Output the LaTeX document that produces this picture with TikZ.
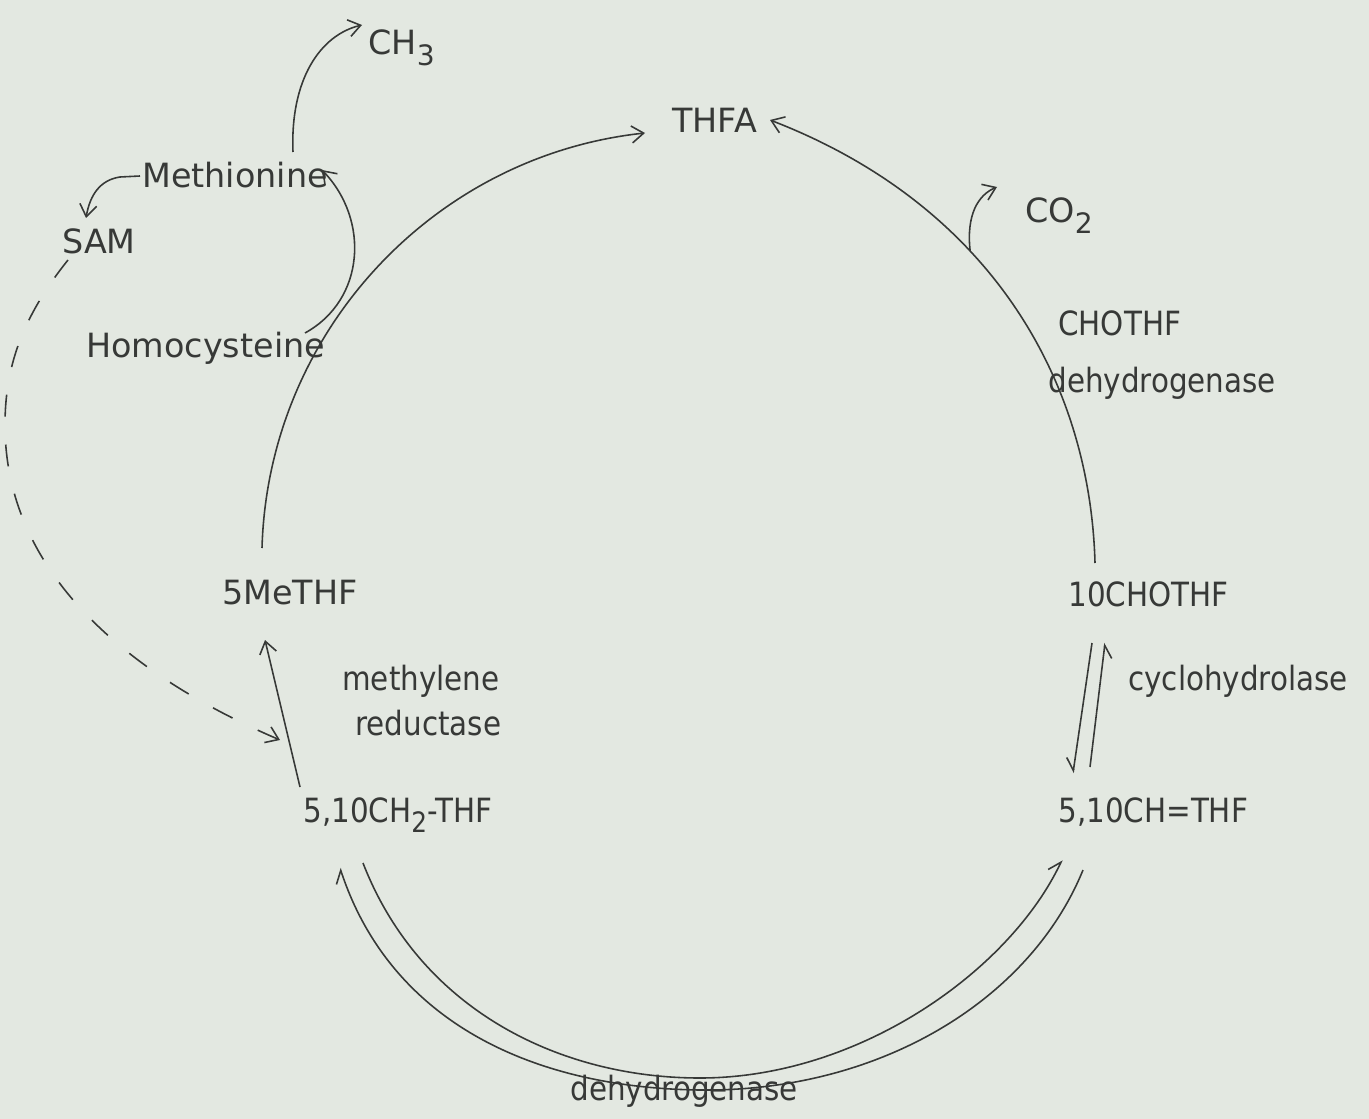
\documentclass[tikz,border=0pt]{standalone}
\usepackage{fontspec}
\setmainfont{DejaVu Sans}
\newfontfamily\narrowfont{DejaVu Sans}[FakeStretch=0.88]
\usetikzlibrary{arrows.meta}
\definecolor{paper}{RGB}{227,232,225}
\definecolor{ink}{RGB}{55,57,55}
\newcommand{\lowsub}[1]{\raisebox{-0.55ex}{\fontsize{16}{16}\selectfont #1}}

\begin{document}
\begin{tikzpicture}[
    x=0.2mm, y=-0.2mm,
    >={Straight Barb[length=2.4mm,width=3.4mm]},
    lbl/.style={anchor=base west, inner sep=0pt, text=ink, font=\fontsize{19}{22}\selectfont},
    nlbl/.style={lbl, font=\narrowfont\fontsize{19}{22}\selectfont},
    enz/.style={nlbl},
    rxn/.style={draw=ink, line width=0.9pt, ->},
    harp/.style={draw=ink, line width=0.9pt, -{Straight Barb[harpoon,length=2.4mm,width=3.4mm]}},
    harpsw/.style={draw=ink, line width=0.9pt, -{Straight Barb[harpoon,swap,length=2.4mm,width=3.4mm]}},
    feedback/.style={rxn, dash pattern=on 4.4mm off 5.6mm},
  ]
  \fill[paper] (0,0) rectangle (1369,1119);
  \useasboundingbox (0,0) rectangle (1369,1119);

  % folate pool
  \node[lbl]  (thfa)    at (672,133)  {THFA};
  \node[lbl]  (methf)   at (222,604)  {5MeTHF};
  \node[nlbl] (cho10)   at (1068,606) {10CHOTHF};
  \node[nlbl] (ch2thf)  at (303,822)  {5,10CH\lowsub{2}-THF};
  \node[nlbl] (chthf)   at (1058,822) {5,10CH=THF};
  % methyl side
  \node[lbl] (ch3)     at (368,55)   {CH\lowsub{3}};
  \node[lbl] (methion) at (142,188)  {Methionine};
  \node[lbl] (sam)     at (62,254)   {SAM};
  \node[lbl] (homocys) at (86,358)   {Homocysteine};
  \node[lbl] (co2)     at (1025,223) {CO\lowsub{2}};
  % enzymes
  \node[enz] (chodh)   at (1058,336) {CHOTHF};
  \node[enz] (chodh2)  at ([shift={(-10,56)}]chodh.base west) {dehydrogenase};
  \node[enz] (mred)    at (342,690)  {methylene};
  \node[enz] (mred2)   at ([shift={(13,45)}]mred.base west) {reductase};
  \node[enz] (cyclo)   at (1128,690) {cyclohydrolase};
  \node[enz] (dh)      at (570,1100) {dehydrogenase};

  % main cycle
  \draw[rxn] ([shift={(40,-56)}]methf.base west) .. controls (268,334) and (432,156) .. ([shift={(-27,0)}]thfa.base west);
  \draw[rxn] ([shift={(27,-43)}]cho10.base west) .. controls (1090,380) and (990,205) .. ([shift={(98,-13)}]thfa.base west)
    coordinate[pos=0.62] (co2off);
  \draw[rxn] (co2off) .. controls (966,215) and (978,195) .. ([shift={(-28,-36)}]co2.base west);
  \draw[rxn] ([shift={(-3,-35)}]ch2thf.base west) -- ([shift={(43,36)}]methf.base west);
  \draw[harpsw] ([shift={(24,37)}]cho10.base west) -- ([shift={(15,-49)}]chthf.base west);
  \draw[harpsw] ([shift={(32,-55)}]chthf.base west) -- ([shift={(37,37)}]cho10.base west);
  \draw[harp] ([shift={(60,41)}]ch2thf.base west) .. controls (420,1010) and (560,1078) .. (700,1078)
    .. controls (860,1078) and (1010,970) .. ([shift={(4,38)}]chthf.base west);
  \draw[harp] ([shift={(25,48)}]chthf.base west) .. controls (1030,1000) and (880,1092) .. (700,1090)
    .. controls (530,1088) and (390,1020) .. ([shift={(37,46)}]ch2thf.base west);

  % methionine loop
  \draw[rxn] ([shift={(219,-25)}]homocys.base west) .. controls (365,300) and (370,220) .. ([shift={(180,-18)}]methion.base west);
  \draw[rxn] ([shift={(151,-36)}]methion.base west) .. controls (290,80) and (320,35) .. ([shift={(-6,-30)}]ch3.base west);
  \draw[rxn] ([shift={(-2,-12)}]methion.base west) -- ++(-20,1) .. controls (100,180) and (90,195) .. ([shift={(24,-36)}]sam.base west);
  \draw[feedback] ([shift={(6,6)}]sam.base west) .. controls (20,320) and (5,370) .. (5,425)
    .. controls (5,580) and (140,680) .. ([shift={(-23,-82)}]ch2thf.base west);
\end{tikzpicture}
\end{document}
